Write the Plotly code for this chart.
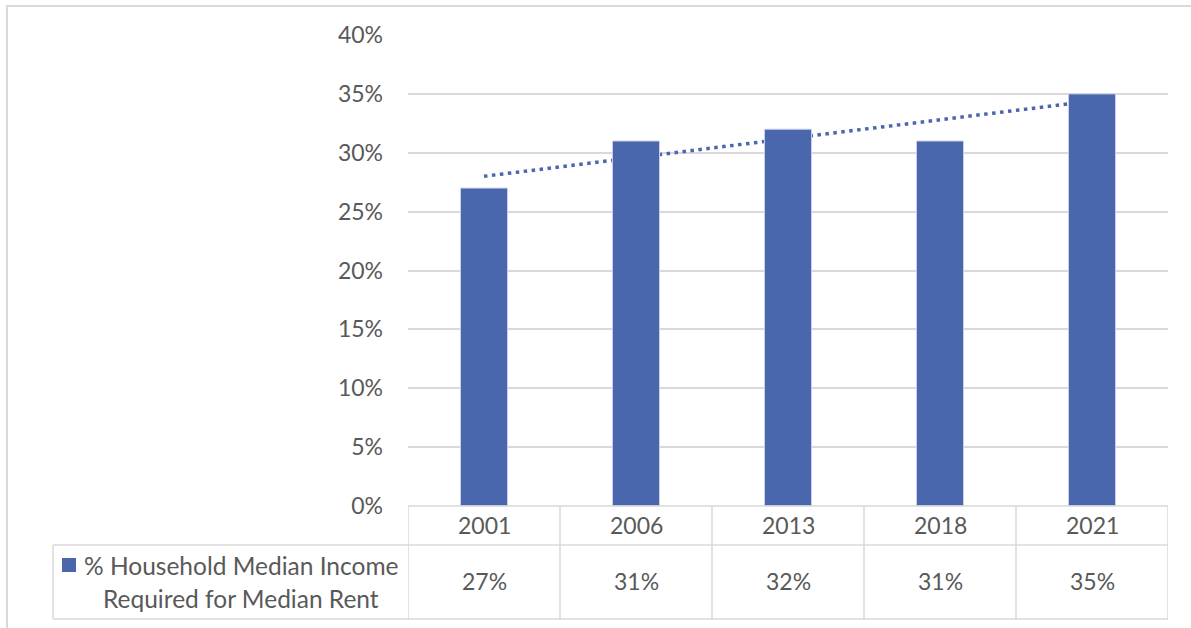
import numpy as np
import plotly.graph_objects as go

# --- data -----------------------------------------------------------------
years = ["2001", "2006", "2013", "2018", "2021"]
rent_share = [0.27, 0.31, 0.32, 0.31, 0.35]
series_label = ["% Household Median Income", "Required for Median Rent"]
y_ticks = [0, 0.05, 0.10, 0.15, 0.20, 0.25, 0.30, 0.35, 0.40]

# linear trendline over the category positions
idx = np.arange(len(years))
slope, intercept = np.polyfit(idx, rent_share, 1)
trend = slope * idx + intercept

# --- style ----------------------------------------------------------------
BAR = "#4A66AC"
TEXT = "#595959"
GRID = "#D9D9D9"
FONT = "Lato"
W, H = 1191, 628
PL, PR, PT, PB = 408, 1168, 35, 506  # plot area in pixels


def px(x):
    return (x - PL) / (PR - PL)


def py(y):
    return (PB - y) / (PB - PT)


fig = go.Figure()

# trendline on the base axes so the bars (overlay axes) sit on top of it
fig.add_trace(go.Scatter(
    x=years, y=trend, mode="lines",
    line=dict(color=BAR, width=3.5, dash="3.5px,4.5px"),
    xaxis="x", yaxis="y", hoverinfo="skip", showlegend=False,
))
fig.add_trace(go.Bar(
    x=years, y=rent_share,
    marker=dict(color=BAR, line=dict(color="#C9D3EA", width=1)),
    xaxis="x2", yaxis="y2", showlegend=False,
))

shapes = []
line = dict(color=GRID, width=1.5)

# outer chart frame
shapes.append(dict(type="rect", xref="paper", yref="paper",
                   x0=px(7), x1=px(1210), y0=py(6), y1=py(650),
                   line=dict(color=GRID, width=2), layer="below"))

# data table grid
for yy, x0 in [(506, PL), (545, 53), (619, 53)]:
    shapes.append(dict(type="line", xref="paper", yref="paper",
                       x0=px(x0), x1=1, y0=py(yy), y1=py(yy), line=line))
for b in np.arange(len(years) + 1) - 0.5:
    shapes.append(dict(type="line", xref="x", yref="paper",
                       x0=b, x1=b, y0=py(506), y1=py(619), line=line))
shapes.append(dict(type="line", xref="paper", yref="paper",
                   x0=px(53), x1=px(53), y0=py(545), y1=py(619), line=line))
# legend key
shapes.append(dict(type="rect", xref="paper", yref="paper",
                   x0=px(62), x1=px(76), y0=py(572), y1=py(558),
                   fillcolor=BAR, line=dict(width=0)))

annotations = []
font = dict(family=FONT, size=23, color=TEXT)
for i, (yr, v) in enumerate(zip(years, rent_share)):
    annotations.append(dict(x=i, y=py(525), xref="x", yref="paper", text=yr,
                            showarrow=False, font=font, xanchor="center", yanchor="middle"))
    annotations.append(dict(x=i, y=py(581), xref="x", yref="paper", text=f"{v:.0%}",
                            showarrow=False, font=font, xanchor="center", yanchor="middle"))
label_font = dict(family=FONT, size=24.5, color=TEXT)
for txt, yy in zip(series_label, [565, 598]):
    annotations.append(dict(x=px(241), y=py(yy), xref="paper", yref="paper", text=txt,
                            showarrow=False, font=label_font, xanchor="center", yanchor="middle"))

axis_x = dict(type="category", range=[-0.5, len(years) - 0.5], showticklabels=False,
              showgrid=False, zeroline=False, showline=False, fixedrange=True)

fig.update_layout(
    width=W, height=H,
    margin=dict(l=PL, r=W - PR, t=PT, b=H - PB),
    paper_bgcolor="white", plot_bgcolor="white",
    bargap=0.69,
    font=dict(family=FONT, color=TEXT),
    xaxis=axis_x,
    xaxis2=dict(axis_x, overlaying="x", visible=False),
    yaxis=dict(range=[0, 0.40], tickvals=y_ticks, tickformat=".0%",
               gridcolor=GRID, gridwidth=1.5, showline=False, zeroline=False,
               tickfont=dict(family=FONT, size=23, color=TEXT),
               ticklabelstandoff=24, fixedrange=True),
    yaxis2=dict(range=[0, 0.40], overlaying="y", visible=False),
    shapes=shapes,
    annotations=annotations,
    showlegend=False,
)

fig.write_html("out.html")
